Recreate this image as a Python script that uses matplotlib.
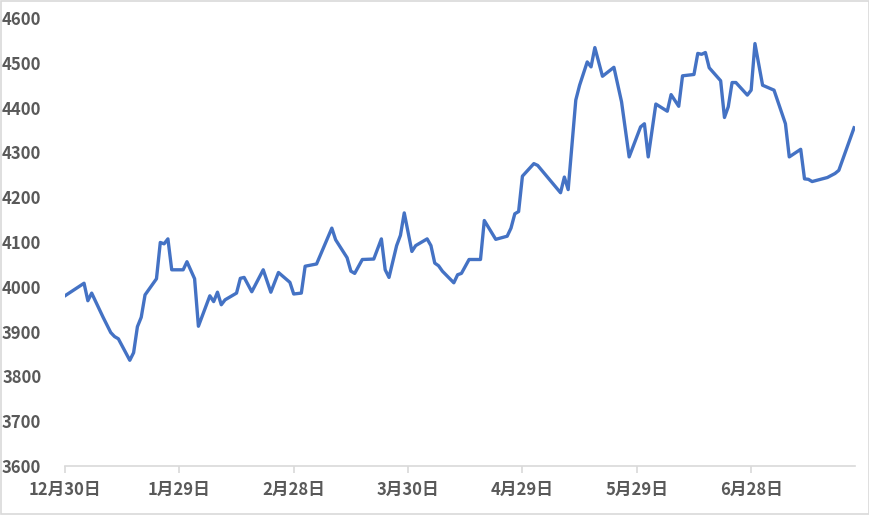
import matplotlib
matplotlib.use("Agg")
import matplotlib.pyplot as plt
import matplotlib.dates as mdates
import numpy as np
from matplotlib.patches import Rectangle

plt.rcParams['font.family'] = ['Noto Sans CJK JP', 'DejaVu Sans']

dates = [
    "2022-12-30", "2023-01-04", "2023-01-05", "2023-01-06", "2023-01-09", "2023-01-11",
    "2023-01-12", "2023-01-13", "2023-01-16", "2023-01-17", "2023-01-18", "2023-01-19",
    "2023-01-20", "2023-01-23", "2023-01-24", "2023-01-25", "2023-01-26", "2023-01-27",
    "2023-01-30", "2023-01-31", "2023-02-02", "2023-02-03", "2023-02-06", "2023-02-07",
    "2023-02-08", "2023-02-09", "2023-02-10", "2023-02-13", "2023-02-14", "2023-02-15",
    "2023-02-17", "2023-02-20", "2023-02-22", "2023-02-24", "2023-02-27", "2023-02-28",
    "2023-03-02", "2023-03-03", "2023-03-06", "2023-03-10", "2023-03-11", "2023-03-14",
    "2023-03-15", "2023-03-16", "2023-03-18", "2023-03-21", "2023-03-23", "2023-03-24",
    "2023-03-25", "2023-03-27", "2023-03-28", "2023-03-29", "2023-03-31", "2023-04-01",
    "2023-04-04", "2023-04-05", "2023-04-06", "2023-04-07", "2023-04-08", "2023-04-11",
    "2023-04-12", "2023-04-13", "2023-04-15", "2023-04-18", "2023-04-19", "2023-04-22",
    "2023-04-25", "2023-04-26", "2023-04-27", "2023-04-28", "2023-04-29", "2023-05-02",
    "2023-05-03", "2023-05-09", "2023-05-10", "2023-05-11", "2023-05-13", "2023-05-14",
    "2023-05-16", "2023-05-17", "2023-05-18", "2023-05-20", "2023-05-23", "2023-05-25",
    "2023-05-27", "2023-05-30", "2023-05-31", "2023-06-01", "2023-06-03", "2023-06-06",
    "2023-06-07", "2023-06-09", "2023-06-10", "2023-06-13", "2023-06-14", "2023-06-15",
    "2023-06-16", "2023-06-17", "2023-06-20", "2023-06-21", "2023-06-22", "2023-06-23",
    "2023-06-24", "2023-06-27", "2023-06-28", "2023-06-29", "2023-07-01", "2023-07-04",
    "2023-07-07", "2023-07-08", "2023-07-11", "2023-07-12", "2023-07-13", "2023-07-14",
    "2023-07-18", "2023-07-20", "2023-07-21", "2023-07-25",
]
values = [
    3980, 4008, 3969, 3986, 3932, 3898,
    3889, 3884, 3836, 3853, 3911, 3932,
    3982, 4018, 4099, 4096, 4107, 4038,
    4038, 4056, 4018, 3912, 3980, 3967,
    3988, 3960, 3971, 3986, 4019, 4021,
    3989, 4038, 3988, 4032, 4010, 3984,
    3986, 4046, 4051, 4131, 4105, 4065,
    4035, 4030, 4061, 4062, 4107, 4038,
    4021, 4092, 4115, 4165, 4079, 4092,
    4107, 4092, 4053, 4047, 4035, 4009,
    4027, 4030, 4061, 4061, 4148, 4106,
    4113, 4131, 4163, 4168, 4247, 4275,
    4271, 4210, 4245, 4217, 4417, 4450,
    4502, 4491, 4534, 4470, 4490, 4413,
    4290, 4357, 4364, 4290, 4408, 4392,
    4429, 4403, 4471, 4474, 4521, 4519,
    4523, 4489, 4460, 4378, 4402, 4456,
    4456, 4428, 4439, 4543, 4450, 4439,
    4364, 4290, 4307, 4241, 4240, 4235,
    4244, 4253, 4260, 4355,
]
tick_dates = ["2022-12-30", "2023-01-29", "2023-02-28", "2023-03-30",
              "2023-04-29", "2023-05-29", "2023-06-28"]
tick_labels = ["12月30日", "1月29日", "2月28日", "3月30日", "4月29日", "5月29日", "6月28日"]

x = np.array(dates, dtype="datetime64[D]").astype("O")
xt = np.array(tick_dates, dtype="datetime64[D]").astype("O")

fig = plt.figure(figsize=(8.7, 5.15), dpi=100)
ax = fig.add_axes([0.0747, 0.0951, 0.9083, 0.8699])
ax.plot(x, values, color="#4472C4", linewidth=2.4, solid_joinstyle="round")

ax.set_xlim(mdates.date2num(x[0]), mdates.date2num(x[-1]) + 0.3)
ax.set_ylim(3600, 4600)
ax.set_yticks(range(3600, 4601, 100))
ax.set_xticks(xt)
ax.set_xticklabels(tick_labels)

for s in ["top", "right", "left"]:
    ax.spines[s].set_visible(False)
ax.spines["bottom"].set_color("#d9d9d9")
ax.spines["bottom"].set_linewidth(1.2)
ax.tick_params(axis="y", length=0, pad=17, labelsize=12, labelcolor="#595959")
ax.tick_params(axis="x", length=5, width=1.2, color="#d9d9d9", pad=6,
               labelsize=12, labelcolor="#595959")
for lab in ax.get_xticklabels() + ax.get_yticklabels():
    lab.set_fontweight("bold")

fig.patches.append(Rectangle((0.001, 0.001), 0.998, 0.997, transform=fig.transFigure,
                             fill=False, edgecolor="#d9d9d9", linewidth=1.2))

fig.savefig("out.png", dpi=100)
